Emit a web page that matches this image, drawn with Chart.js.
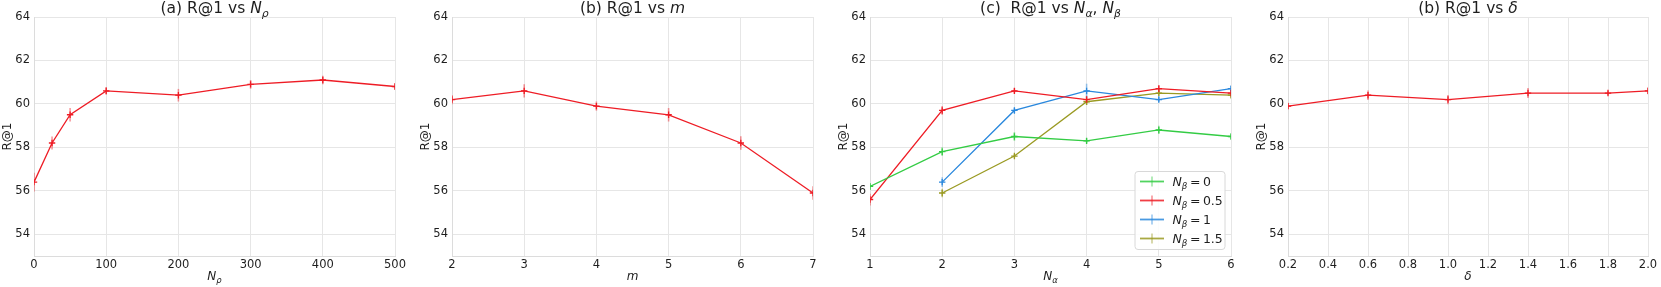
<!DOCTYPE html>
<html><head><meta charset="utf-8">
<script src="https://cdn.jsdelivr.net/npm/chart.js@4.4.0/dist/chart.umd.min.js"></script>
<style>
body{margin:0;background:#fff;width:1661px;height:287px;overflow:hidden;position:relative}
.p{position:absolute;top:0;width:408px;height:287px}
</style></head><body>
<div class="p" style="left:0"><canvas id="c1" width="408" height="287"></canvas></div>
<div class="p" style="left:418px"><canvas id="c2" width="408" height="287"></canvas></div>
<div class="p" style="left:836px"><canvas id="c3" width="408" height="287"></canvas></div>
<div class="p" style="left:1254px"><canvas id="c4" width="407" height="287"></canvas></div>
<script>
// ---------- data ----------
const yTicks = [54, 56, 58, 60, 62, 64];

const npX   = [0, 25, 50, 100, 200, 300, 400, 500];
const npY   = [56.4, 58.2, 59.5, 60.6, 60.4, 60.9, 61.1, 60.8];
const npErr = [0.43, 0.3, 0.31, 0.18, 0.29, 0.2, 0.2, 0.15];
const npTicks = [0, 100, 200, 300, 400, 500];
const npTickLabels = ['0', '100', '200', '300', '400', '500'];

const mX   = [2, 3, 4, 5, 6, 7];
const mY   = [60.2, 60.6, 59.9, 59.5, 58.2, 55.9];
const mErr = [0.21, 0.31, 0.21, 0.31, 0.31, 0.31];
const mTicks = [2, 3, 4, 5, 6, 7];
const mTickLabels = ['2', '3', '4', '5', '6', '7'];

const naX = [1, 2, 3, 4, 5, 6];
const nb0Y   = [56.2, 57.8, 58.5, 58.3, 58.8, 58.5];
const nb0Err = [0.15, 0.2, 0.2, 0.12, 0.19, 0.12];
const nb05Y   = [55.6, 59.7, 60.6, 60.2, 60.7, 60.5];
const nb05Err = [0.27, 0.2, 0.12, 0.15, 0.17, 0.15];
const nb1Y   = [null, 56.4, 59.7, 60.6, 60.2, 60.7];
const nb1Err = [null, 0.23, 0.12, 0.33, 0.12, 0.12];
const nb15Y   = [null, 55.9, 57.6, 60.1, 60.5, 60.4];
const nb15Err = [null, 0.2, 0.1, 0.15, 0.12, 0.12];
const naTicks = [1, 2, 3, 4, 5, 6];
const naTickLabels = ['1', '2', '3', '4', '5', '6'];
const nbLabels = ['0', '0.5', '1', '1.5'];

const dX   = [0.2, 0.6, 1.0, 1.4, 1.8, 2.0];
const dY   = [59.9, 60.4, 60.2, 60.5, 60.5, 60.6];
const dErr = [0.15, 0.22, 0.21, 0.23, 0.1, 0.15];
const dTicks = [0.2, 0.4, 0.6, 0.8, 1.0, 1.2, 1.4, 1.6, 1.8, 2.0];
const dTickLabels = ['0.2', '0.4', '0.6', '0.8', '1.0', '1.2', '1.4', '1.6', '1.8', '2.0'];

// ---------- style ----------
const FAM = 'DejaVu Sans';
const TXT = '#1e1e1e';
const GRID = '#e6e6e6';
const RED = '#ee1c25', GREEN = '#33cc44', BLUE = '#2a88dd', OLIVE = '#9a9a22';

function alpha(hex, a) {
  const n = parseInt(hex.slice(1), 16);
  return `rgba(${n >> 16},${(n >> 8) & 255},${n & 255},${a})`;
}

function drawRich(ctx, segs, x, baseline, size, align) {
  let total = 0;
  const parts = segs.map(s => {
    const fs = s.sub ? size * 0.7 : size;
    const f = (s.it ? 'italic ' : '') + fs + 'px "' + FAM + '"';
    ctx.font = f;
    const w = ctx.measureText(s.t).width;
    total += w;
    return { t: s.t, f, w, dy: s.sub ? size * 0.25 : 0 };
  });
  let cx = align === 'center' ? x - total / 2 : x;
  ctx.save();
  ctx.textAlign = 'left';
  ctx.textBaseline = 'alphabetic';
  ctx.fillStyle = TXT;
  parts.forEach(p => { ctx.font = p.f; ctx.fillText(p.t, cx, baseline + p.dy); cx += p.w; });
  ctx.restore();
}

const richPlugin = {
  id: 'rich',
  afterDraw(chart, args, opts) {
    const ctx = chart.ctx, a = chart.chartArea;
    const cx = (a.left + a.right) / 2;
    drawRich(ctx, opts.title, cx, 13, 15.5, 'center');
    drawRich(ctx, opts.xTitle, cx, 280, 12, 'center');
    if (opts.legend) {
      const L = opts.legend;
      const bw = 90, bh = 78;
      const bx = a.right - 6 - bw, by = a.bottom - 6.5 - bh;
      ctx.save();
      ctx.beginPath();
      ctx.roundRect(bx, by, bw, bh, 3);
      ctx.fillStyle = 'rgba(255,255,255,0.85)';
      ctx.fill();
      ctx.strokeStyle = '#d8d8d8';
      ctx.lineWidth = 1;
      ctx.stroke();
      L.forEach((it, i) => {
        const yy = by + 10 + i * 19;
        ctx.strokeStyle = alpha(it.color, 0.85);
        ctx.lineWidth = 1.8;
        ctx.beginPath(); ctx.moveTo(bx + 5, yy); ctx.lineTo(bx + 29, yy); ctx.stroke();
        ctx.strokeStyle = alpha(it.color, 0.5);
        ctx.lineWidth = 1.5;
        ctx.beginPath(); ctx.moveTo(bx + 17, yy - 5); ctx.lineTo(bx + 17, yy + 5); ctx.stroke();
        drawRich(ctx, [{ t: 'N', it: true }, { t: 'β', it: true, sub: true }, { t: '\u2009=\u2009' + it.label }], bx + 37.5, yy + 4.5, 12.5, 'left');
      });
      ctx.restore();
    }
  }
};

const errPlugin = {
  id: 'errbars',
  beforeDatasetsDraw(chart) {
    const ctx = chart.ctx, a = chart.chartArea;
    const xs = chart.scales.x, ys = chart.scales.y;
    ctx.save();
    ctx.beginPath(); ctx.rect(a.left, a.top, a.right - a.left, a.bottom - a.top); ctx.clip();
    chart.data.datasets.forEach(ds => {
      ctx.strokeStyle = alpha(ds.baseColor, 0.45);
      ctx.lineWidth = 1.6;
      ds.data.forEach((p, i) => {
        const e = ds.errs[i];
        if (p.y == null || e == null) return;
        const px = xs.getPixelForValue(p.x);
        ctx.beginPath();
        ctx.moveTo(px, ys.getPixelForValue(p.y - e));
        ctx.lineTo(px, ys.getPixelForValue(p.y + e));
        ctx.stroke();
      });
    });
    ctx.restore();
  }
};

function series(xs, ys, errs, color) {
  const data = [];
  const e = [];
  xs.forEach((x, i) => { if (ys[i] != null) { data.push({ x, y: ys[i] }); e.push(errs[i]); } });
  return {
    data, errs: e, baseColor: color,
    borderColor: color, backgroundColor: color,
    borderWidth: 1.3, pointStyle: 'cross', pointRadius: 3.2, pointBorderWidth: 1.3,
    pointBorderColor: color, tension: 0, clip: 0
  };
}

function makeChart(id, datasets, xMin, xMax, xTicks, xLabels, title, xTitle, legend) {
  new Chart(document.getElementById(id), {
    type: 'line',
    data: { datasets },
    options: {
      responsive: false, animation: false, devicePixelRatio: 1,
      layout: { padding: { top: 17, right: 13, left: 0, bottom: 0 } },
      plugins: { legend: { display: false }, tooltip: { enabled: false },
        rich: { title, xTitle, legend } },
      scales: {
        x: {
          type: 'linear', min: xMin, max: xMax,
          afterBuildTicks: s => { s.ticks = xTicks.map(v => ({ value: v })); },
          afterFit: s => { s.height = 31; },
          ticks: { autoSkip: false, maxRotation: 0, padding: 2, color: TXT,
            font: { family: FAM, size: 11.5 },
            callback: (v, i) => xLabels[i] },
          grid: { color: GRID, lineWidth: 1, drawTicks: false },
          border: { color: '#dcdcdc', width: 1 }
        },
        y: {
          type: 'linear', min: 53, max: 64,
          afterBuildTicks: s => { s.ticks = yTicks.map(v => ({ value: v })); },
          afterFit: s => { s.width = 34; },
          ticks: { padding: 4, color: TXT, font: { family: FAM, size: 11.5 },
            callback: v => String(v) },
          grid: { color: GRID, lineWidth: 1, drawTicks: false },
          border: { color: '#dcdcdc', width: 1 },
          title: { display: true, text: 'R@1', color: TXT, font: { family: FAM, size: 12 },
            padding: { top: 1, bottom: 0 } }
        }
      }
    },
    plugins: [errPlugin, richPlugin]
  });
}

makeChart('c1', [series(npX, npY, npErr, RED)], 0, 500, npTicks, npTickLabels,
  [{ t: '(a) R@1 vs ' }, { t: 'N', it: true }, { t: 'ρ', it: true, sub: true }],
  [{ t: 'N', it: true }, { t: 'ρ', it: true, sub: true }]);

makeChart('c2', [series(mX, mY, mErr, RED)], 2, 7, mTicks, mTickLabels,
  [{ t: '(b) R@1 vs ' }, { t: 'm', it: true }],
  [{ t: 'm', it: true }]);

makeChart('c3', [
    series(naX, nb0Y, nb0Err, GREEN),
    series(naX, nb05Y, nb05Err, RED),
    series(naX, nb1Y, nb1Err, BLUE),
    series(naX, nb15Y, nb15Err, OLIVE)
  ], 1, 6, naTicks, naTickLabels,
  [{ t: '(c)  R@1 vs ' }, { t: 'N', it: true }, { t: 'α', it: true, sub: true }, { t: ', ' },
   { t: 'N', it: true }, { t: 'β', it: true, sub: true }],
  [{ t: 'N', it: true }, { t: 'α', it: true, sub: true }],
  [{ color: GREEN, label: nbLabels[0] }, { color: RED, label: nbLabels[1] },
   { color: BLUE, label: nbLabels[2] }, { color: OLIVE, label: nbLabels[3] }]);

makeChart('c4', [series(dX, dY, dErr, RED)], 0.2, 2.0, dTicks, dTickLabels,
  [{ t: '(b) R@1 vs ' }, { t: 'δ', it: true }],
  [{ t: 'δ', it: true }]);
</script>
</body></html>
